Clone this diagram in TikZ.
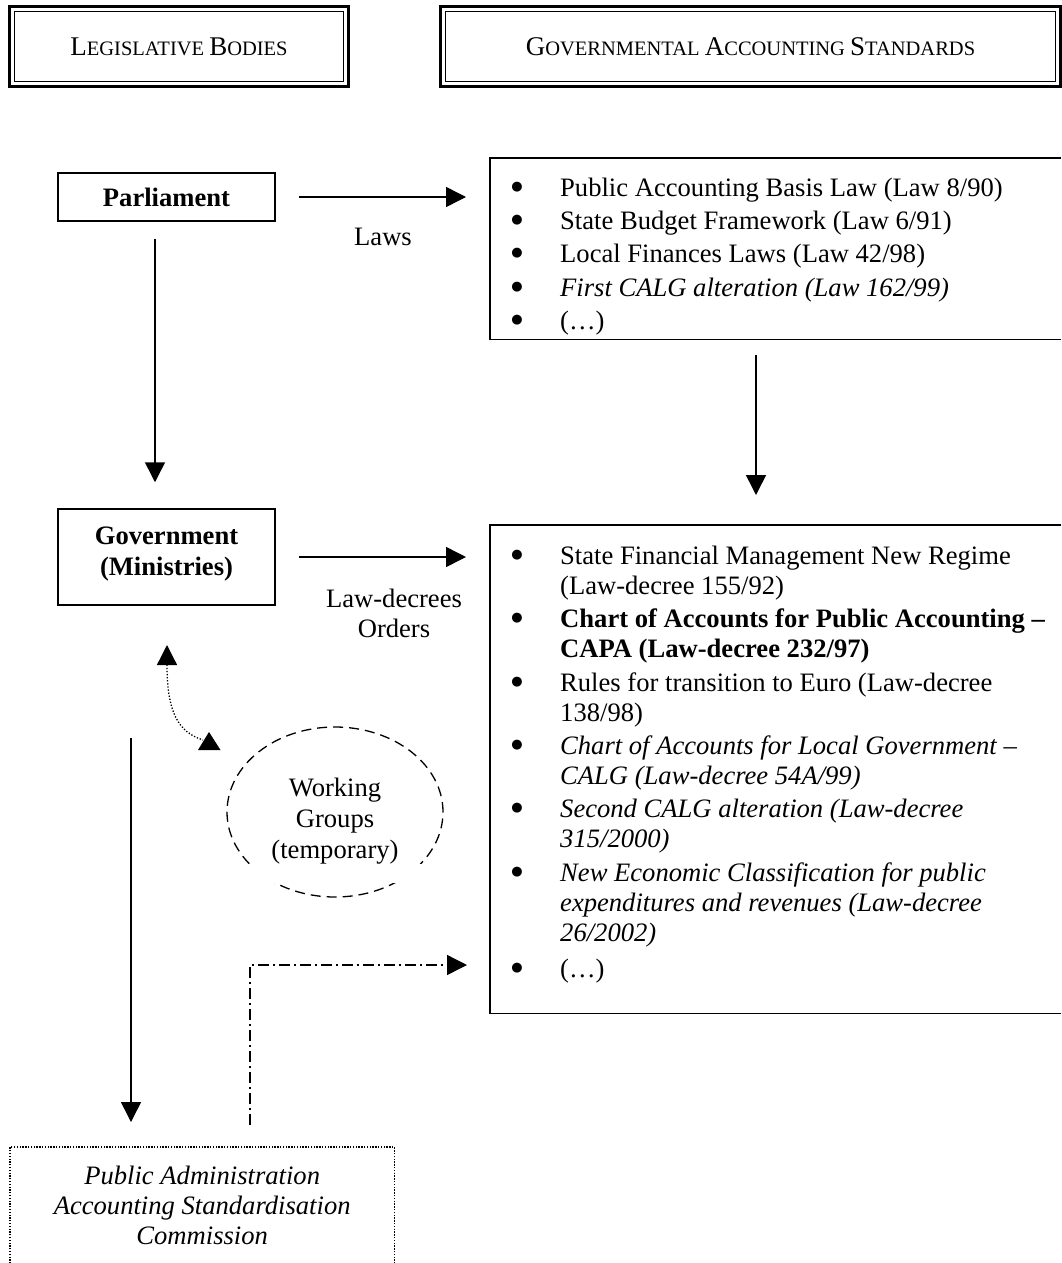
\documentclass[tikz,border=0pt]{standalone}
\usepackage{fontspec}
\setmainfont{Liberation Serif}
\newfontfamily\bulletfont{DejaVu Sans}
\usetikzlibrary{arrows.meta,shapes.geometric}
\newcommand\hdrbig[1]{{\fontsize{27}{30}\selectfont #1}}
\newcommand\hdrsmall[1]{{\fontsize{20.5}{30}\selectfont #1}}
\begin{document}
\begin{tikzpicture}[x=1pt,y=-1pt,
  txt/.style={font=\fontsize{26.6}{30}\selectfont, inner sep=0pt},
  bx/.style={txt, draw, line width=1.5pt},
  boxline/.style={line width=1.5pt},
  hdrinner/.style={draw, line width=1.2pt, inner sep=0pt},
  hdrouter/.style={line width=2.4pt},
  conn/.style={line width=1.5pt,-{Triangle[length=20pt,width=20pt]}},
  dotconn/.style={line width=1.3pt, dash pattern=on 1.3pt off 1.8pt},
  ddconn/.style={line width=1.4pt, dash pattern=on 11pt off 4pt on 2pt off 4pt,-{Triangle[length=20pt,width=20pt]}},
  tipfill/.style={fill=black},
  itemtxt/.style={txt, anchor=base west},
  bul/.style={inner sep=0pt, anchor=center, font=\bulletfont\fontsize{13}{13}\selectfont, yshift=9pt},
]
\useasboundingbox (0,0) rectangle (1061,1263);

% ---- headers
\node[hdrinner, minimum width=329, minimum height=70] (hleg) at (179,46.5)
  {\hdrbig{L}\hdrsmall{EGISLATIVE }\hdrbig{B}\hdrsmall{ODIES}};
\draw[hdrouter] ([shift={(-4.5,-4.5)}]hleg.north west) rectangle ([shift={(4.5,4.5)}]hleg.south east);
\node[hdrinner, minimum width=610, minimum height=70] (hgov) at (750.5,46.5)
  {\hdrbig{G}\hdrsmall{OVERNMENTAL }\hdrbig{A}\hdrsmall{CCOUNTING }\hdrbig{S}\hdrsmall{TANDARDS}};
\draw[hdrouter] ([shift={(-4.5,-4.5)}]hgov.north west) rectangle ([shift={(4.5,4.5)}]hgov.south east);

% ---- left column boxes
\node[bx, minimum width=217, minimum height=48, font=\fontsize{26.6}{30}\selectfont\bfseries] (parl) at (166.5,197) {Parliament};
\node[bx, minimum width=217, minimum height=96] (gov) at (166.5,557) {};
\node[txt, align=center, font=\fontsize{26.6}{31}\selectfont\bfseries] (govtxt) at (166.5,554) {Government\\(Ministries)};

% ---- laws box (open to the right)
\node[inner sep=0pt, minimum width=571, minimum height=181, anchor=north west] (laws) at (490,158) {};
\draw[boxline] (laws.north east) -| (laws.south west) -- (laws.south east);
\node[bul] (lb1) at (517,196) {●};
\node[bul] (lb2) at (517,229) {●};
\node[bul] (lb3) at (517,262) {●};
\node[bul] (lb4) at (517,296) {●};
\node[bul] (lb5) at (517,329) {●};
\node[itemtxt] (l1) at (560,196) {Public Accounting Basis Law (Law 8/90)};
\node[itemtxt] (l2) at (560,229) {State Budget Framework (Law 6/91)};
\node[itemtxt] (l3) at (560,262) {Local Finances Laws (Law 42/98)};
\node[itemtxt, font=\fontsize{26.6}{30}\selectfont\itshape] (l4) at (560,296) {First CALG alteration (Law 162/99)};
\node[itemtxt] (l5) at (560,329) {(…)};

% ---- decrees box (open to the right)
\node[inner sep=0pt, minimum width=571, minimum height=488, anchor=north west] (dec) at (490,525) {};
\draw[boxline] (dec.north east) -| (dec.south west) -- (dec.south east);
\node[bul] (db1) at (517,564) {●};
\node[bul] (db2) at (517,627) {●};
\node[bul] (db3) at (517,691) {●};
\node[bul] (db4) at (517,754) {●};
\node[bul] (db5) at (517,817) {●};
\node[bul] (db6) at (517,881) {●};
\node[bul] (db7) at (517,977) {●};
\node[itemtxt] (d1) at (560,564) {State Financial Management New Regime};
\node[itemtxt] (d2) at (560,594) {(Law-decree 155/92)};
\node[itemtxt, font=\fontsize{26.6}{30}\selectfont\bfseries] (d3) at (560,627) {Chart of Accounts for Public Accounting –};
\node[itemtxt, font=\fontsize{26.6}{30}\selectfont\bfseries] (d4) at (560,657) {CAPA (Law-decree 232/97)};
\node[itemtxt] (d5) at (560,691) {Rules for transition to Euro (Law-decree};
\node[itemtxt] (d6) at (560,721) {138/98)};
\node[itemtxt, font=\fontsize{26.6}{30}\selectfont\itshape] (d7) at (560,754) {Chart of Accounts for Local Government –};
\node[itemtxt, font=\fontsize{26.6}{30}\selectfont\itshape] (d8) at (560,784) {CALG (Law-decree 54A/99)};
\node[itemtxt, font=\fontsize{26.6}{30}\selectfont\itshape] (d9) at (560,817) {Second CALG alteration (Law-decree};
\node[itemtxt, font=\fontsize{26.6}{30}\selectfont\itshape] (d10) at (560,847) {315/2000)};
\node[itemtxt, font=\fontsize{26.6}{30}\selectfont\itshape] (d11) at (560,881) {New Economic Classification for public};
\node[itemtxt, font=\fontsize{26.6}{30}\selectfont\itshape] (d12) at (560,911) {expenditures and revenues (Law-decree};
\node[itemtxt, font=\fontsize{26.6}{30}\selectfont\itshape] (d13) at (560,941) {26/2002)};
\node[itemtxt] (d14) at (560,977) {(…)};

% ---- working groups
\node[ellipse, draw, line width=1.3pt, dash pattern=on 10pt off 6pt, minimum width=216, minimum height=170] (wg) at (335,812) {};
\fill[white] (244,864) rectangle (426,883);
\node[txt, align=center, font=\fontsize{26.6}{31}\selectfont] (wgtxt) at (335,821) {Working\\Groups\\(temporary)};

% ---- commission (open at the bottom)
\node[txt, align=center, minimum width=384, minimum height=116, anchor=north west,
      font=\fontsize{26.6}{30}\selectfont\itshape] (comm) at (10,1147)
  {Public Administration\\Accounting Standardisation\\Commission};
\draw[line width=1.3pt, dash pattern=on 1.3pt off 1.5pt] (comm.south west) -- (comm.north west) -- (comm.north east) -- (comm.south east);

% ---- connectors
\draw[conn, shorten <=23pt, shorten >=24pt] (parl.east) -- (parl.east -| laws.west);
\node[txt] (lawslbl) at (383,237) {Laws};
\draw[conn] ([shift={(-11.5,17)}]parl.south) -- ([shift={(-11.5,-26)}]gov.north);
\draw[conn] ([shift={(266,16)}]laws.south west) -- ([shift={(266,-30)}]dec.north west);
\draw[conn, shorten <=23pt, shorten >=24pt] (gov.east) -- (gov.east -| dec.west);
\node[txt, align=center, font=\fontsize{26.6}{30}\selectfont] (declbl) at (394,613) {Law-decrees\\Orders};

% dotted double-headed curve between Government and Working Groups
\coordinate (dgA) at (167,645);
\coordinate (dgB) at (203,740);
\draw[dotconn, {Triangle[length=20pt,width=20pt]}-] (dgA) .. controls (167,712) and (178,732) .. (dgB);
\fill[tipfill] (209,732) -- (220.5,750) -- (198,750) -- cycle;

% long arrow down to the commission
\coordinate (lstart) at (131,738);
\draw[conn, shorten >=25pt] (lstart) -- (lstart |- comm.north);

% dash-dot connector from commission to decrees box
\coordinate (ddstart) at (250,1125);
\draw[ddconn, shorten >=23pt] (ddstart) |- (dec.west |- 0,965);
\end{tikzpicture}
\end{document}
